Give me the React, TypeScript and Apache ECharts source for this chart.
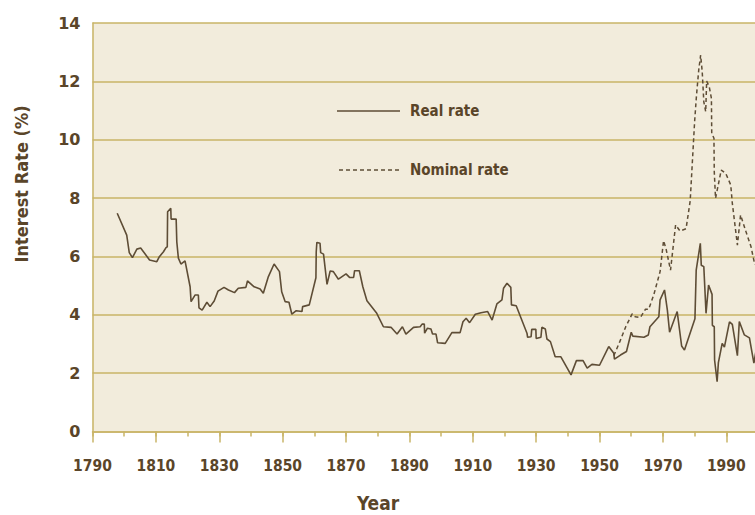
import React, { useEffect, useRef } from "react";
import * as echarts from "echarts";

const realYears = [
  1797.8, 1800.8, 1801.6, 1802.6, 1804.0, 1805.2, 1808.0, 1810.3, 1811.1, 1812.4, 1813.2, 1813.6, 1813.7, 1814.7, 1814.8, 1816.4, 1816.6, 1817.1, 1817.9, 1819.2,
  1820.8, 1821.1, 1822.4, 1823.4, 1823.6, 1824.6, 1826.1, 1827.1, 1828.4, 1829.6, 1831.5, 1832.9, 1834.8, 1836.0, 1838.4, 1838.9, 1841.0, 1842.9, 1843.9, 1845.5,
  1847.3, 1849.0, 1849.7, 1850.8, 1852.0, 1852.9, 1854.3, 1856.1, 1856.3, 1858.4, 1860.5, 1860.6, 1860.8, 1861.8, 1862.0, 1862.9, 1864.0, 1865.0, 1866.0, 1867.6,
  1870.0, 1871.1, 1872.4, 1872.7, 1874.2, 1875.3, 1876.6, 1879.7, 1881.8, 1884.2, 1886.1, 1887.8, 1888.9, 1891.3, 1893.4, 1894.0, 1894.7, 1894.8, 1895.7, 1896.8,
  1897.3, 1898.4, 1898.9, 1901.3, 1903.4, 1906.0, 1906.9, 1907.9, 1909.0, 1910.8, 1912.6, 1914.7, 1916.1, 1917.6, 1919.2, 1919.7, 1920.8, 1922.0, 1922.2, 1923.7,
  1927.1, 1927.3, 1928.4, 1928.6, 1929.9, 1930.0, 1931.5, 1931.8, 1932.9, 1933.4, 1934.5, 1936.0, 1937.8, 1941.0, 1942.7, 1944.8, 1946.1, 1947.6, 1950.0, 1952.9,
  1954.5, 1954.7, 1956.6, 1958.5, 1960.0, 1960.5, 1964.0, 1965.4, 1965.9, 1968.7, 1969.1, 1970.5, 1971.4, 1972.1, 1974.5, 1975.9, 1976.8, 1980.1, 1980.5, 1981.8,
  1982.1, 1982.9, 1983.6, 1984.4, 1985.5, 1985.6, 1986.2, 1986.3, 1987.1, 1987.5, 1988.7, 1989.4, 1991.0, 1991.9, 1993.5, 1994.1, 1995.7, 1997.3, 1998.7, 1999.5,
];
const realValues = [
  7.48, 6.73, 6.13, 5.96, 6.25, 6.29, 5.88, 5.82, 5.99, 6.16, 6.30, 6.33, 7.53, 7.65, 7.28, 7.28, 6.50, 5.94, 5.74, 5.85,
  4.96, 4.45, 4.68, 4.68, 4.24, 4.16, 4.43, 4.28, 4.47, 4.81, 4.94, 4.85, 4.76, 4.91, 4.94, 5.16, 4.96, 4.88, 4.74, 5.31,
  5.74, 5.48, 4.79, 4.45, 4.43, 4.02, 4.14, 4.11, 4.28, 4.34, 5.27, 6.16, 6.48, 6.45, 6.13, 6.08, 5.04, 5.50, 5.48, 5.22,
  5.40, 5.28, 5.28, 5.51, 5.51, 4.96, 4.48, 4.05, 3.59, 3.57, 3.34, 3.59, 3.34, 3.57, 3.59, 3.68, 3.68, 3.37, 3.54, 3.51,
  3.34, 3.34, 3.04, 3.02, 3.39, 3.39, 3.76, 3.88, 3.73, 4.02, 4.07, 4.11, 3.82, 4.37, 4.51, 4.91, 5.08, 4.94, 4.34, 4.31,
  3.37, 3.23, 3.25, 3.50, 3.50, 3.19, 3.23, 3.57, 3.51, 3.17, 3.08, 2.56, 2.56, 1.94, 2.43, 2.43, 2.17, 2.30, 2.27, 2.91,
  2.68, 2.48, 2.62, 2.74, 3.40, 3.27, 3.23, 3.31, 3.59, 3.93, 4.51, 4.85, 4.16, 3.40, 4.11, 2.93, 2.79, 3.86, 5.53, 6.45,
  5.70, 5.65, 4.05, 5.02, 4.70, 3.64, 3.59, 2.45, 1.71, 2.36, 3.02, 2.89, 3.76, 3.67, 2.60, 3.77, 3.31, 3.21, 2.34, 2.85,
];

const nominalYears = [
  1954.5, 1956.4, 1958.3, 1960.3, 1961.3, 1962.9, 1964.5, 1965.5, 1967.1, 1969.1, 1970.2, 1971.0, 1972.4, 1974.0, 1975.4, 1977.3, 1978.6, 1980.0, 1980.6, 1981.3,
  1981.9, 1982.4, 1982.9, 1983.5, 1983.8, 1984.6, 1985.3, 1985.4, 1986.1, 1986.2, 1986.6, 1988.4, 1989.8, 1991.4, 1991.9, 1993.5, 1994.5, 1996.2, 1997.8, 1999.0,
];
const nominalValues = [
  2.6, 3.08, 3.6, 4.03, 3.93, 3.91, 4.19, 4.19, 4.68, 5.48, 6.54, 6.25, 5.53, 7.08, 6.87, 6.95, 7.9, 10.62, 11.53, 12.39,
  12.9, 12.33, 11.3, 10.96, 12.01, 11.82, 11.42, 10.22, 10.05, 8.9, 7.99, 8.96, 8.85, 8.45, 7.82, 6.39, 7.42, 6.85, 6.33, 5.71,
];

const xMin = 1790;
const xMax = 2000;
const yTicks = [0, 2, 4, 6, 8, 10, 12, 14];
const seriesNames = ["Real rate", "Nominal rate"];
const yTitle = "Interest Rate (%)";
const xTitle = "Year";

const TEXT = "#5a4529";
const LINE = "#5e4d36";
const GOLD = "#c9b467";
const BG = "#f2ecdc";
const FONT = "DejaVu Sans Condensed";

export default function App() {
  const ref = useRef<HTMLDivElement>(null);
  useEffect(() => {
    if (!ref.current) return;
    const chart = echarts.init(ref.current, null, { renderer: "svg" });
    const real = realYears.map((y, i) => [y, realValues[i]]);
    const nominal = nominalYears.map((y, i) => [y, nominalValues[i]]);
    chart.setOption({
      animation: false,
      grid: {
        left: 92.5,
        right: 0,
        top: 23,
        bottom: 83.5,
        show: true,
        backgroundColor: BG,
        borderWidth: 0,
      },
      xAxis: [
        {
          type: "value",
          min: xMin,
          max: xMax,
          interval: 20,
          axisLine: { show: true, lineStyle: { color: GOLD, width: 1.5 } },
          axisTick: { show: true, length: 11, lineStyle: { color: GOLD, width: 1.5 } },
          splitLine: { show: false },
          axisLabel: {
            color: TEXT,
            fontFamily: FONT,
            fontWeight: "bold",
            fontSize: 15.5,
            margin: 26,
            showMaxLabel: false,
            formatter: (v: number) => ((v - xMin) % 20 === 0 && v <= 1990 ? String(v) : ""),
          },
        },
        {
          type: "value",
          position: "bottom",
          min: xMin,
          max: xMax,
          interval: 10,
          axisLine: { show: false },
          axisTick: { show: true, length: 5, lineStyle: { color: GOLD, width: 1.5 } },
          splitLine: { show: false },
          axisLabel: { show: false },
        },
      ],
      yAxis: {
        type: "value",
        min: yTicks[0],
        max: yTicks[yTicks.length - 1],
        interval: 2,
        axisLine: { show: true, lineStyle: { color: GOLD, width: 1.5 } },
        axisTick: { show: false },
        splitLine: { show: true, lineStyle: { color: GOLD, width: 1.5 } },
        axisLabel: {
          color: TEXT,
          fontFamily: "DejaVu Sans",
          fontWeight: "bold",
          fontSize: 16,
          margin: 12,
        },
      },
      series: [
        {
          name: seriesNames[0],
          type: "line",
          data: real,
          showSymbol: false,
          symbol: "none",
          lineStyle: { color: LINE, width: 1.6 },
          z: 3,
        },
        {
          name: seriesNames[1],
          type: "line",
          data: nominal,
          showSymbol: false,
          symbol: "none",
          lineStyle: { color: LINE, width: 1.5, type: [4, 3] },
          z: 2,
        },
      ],
      graphic: [
        { type: "line", shape: { x1: 337, y1: 111, x2: 400, y2: 111 }, style: { stroke: LINE, lineWidth: 1.5 }, z: 10 },
        { type: "line", shape: { x1: 339, y1: 170, x2: 400, y2: 170 }, style: { stroke: LINE, lineWidth: 1.5, lineDash: [4, 3] }, z: 10 },
        {
          type: "text", x: 410, y: 111, z: 10,
          style: { text: seriesNames[0], fill: TEXT, font: `bold 15px '${FONT}'`, verticalAlign: "middle", align: "left" },
        },
        {
          type: "text", x: 410, y: 170, z: 10,
          style: { text: seriesNames[1], fill: TEXT, font: `bold 15px '${FONT}'`, verticalAlign: "middle", align: "left" },
        },
        {
          type: "text", x: 21, y: 184, rotation: Math.PI / 2, z: 10,
          style: { text: yTitle, fill: TEXT, font: `bold 18px '${FONT}'`, verticalAlign: "middle", align: "center" },
        },
        {
          type: "text", x: 378, y: 503, z: 10,
          style: { text: xTitle, fill: TEXT, font: `bold 19px '${FONT}'`, verticalAlign: "middle", align: "center" },
        },
      ],
    });
    return () => chart.dispose();
  }, []);
  return (
    <div style={{ position: "fixed", left: 0, top: 0, width: 755, height: 515, overflow: "hidden", background: "#fff" }}>
      <div ref={ref} style={{ width: 758, height: 515 }} />
    </div>
  );
}
